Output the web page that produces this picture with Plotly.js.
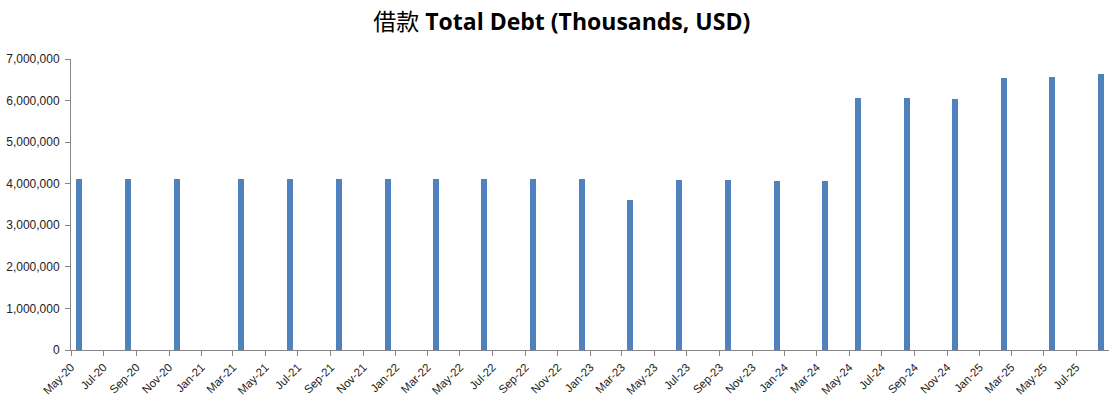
<!DOCTYPE html>
<html>
<head>
<meta charset="utf-8">
<script src="https://cdn.plot.ly/plotly-3.0.1.min.js"></script>
<style>
html,body{margin:0;padding:0;background:#fff;}
#chart{width:1119px;height:401px;}
</style>
</head>
<body>
<div id="chart"></div>
<script>
// Periods (month of each reported value)
const months = ['2020-05','2020-08','2020-11','2021-03','2021-06','2021-09','2021-12',
  '2022-03','2022-06','2022-09','2022-12','2023-03','2023-06','2023-09','2023-12',
  '2024-03','2024-05','2024-08','2024-11','2025-02','2025-05','2025-08'];
// Total debt, thousands USD
const totalDebt = [4115000,4115000,4115000,4115000,4115000,4115000,4115000,
  4115000,4115000,4115000,4115000,3610000,4090000,4090000,4065000,
  4065000,6060000,6060000,6040000,6540000,6570000,6640000];

const titleText = '借款 <b>Total Debt (Thousands, USD)</b>';

const trace = {
  type: 'bar',
  x: months,
  y: totalDebt,
  xperiod: 'M1',
  xperiodalignment: 'middle',
  width: 11.3*24*3600*1000,
  marker: {color: '#4F81BD', line: {width: 0}},
  hoverinfo: 'x+y'
};

const layout = {
  width: 1119, height: 401,
  margin: {l: 71, r: 10, t: 59, b: 51},
  paper_bgcolor: '#fff', plot_bgcolor: '#fff',
  showlegend: false,
  title: {
    text: titleText,
    x: 0.502, xref: 'container', xanchor: 'center',
    y: 0.945, yref: 'container', yanchor: 'middle',
    font: {family: '"Open Sans", "Noto Sans CJK SC", sans-serif', size: 23, color: '#000'}
  },
  xaxis: {
    type: 'date',
    range: ['2020-05-01', '2025-08-31 12:00'],
    tick0: '2020-05-01',
    dtick: 'M2',
    tickformat: '%b-%y',
    tickangle: -45,
    ticks: 'outside', ticklen: 5, tickcolor: '#868686', tickwidth: 1,
    showline: true, linecolor: '#868686', linewidth: 1,
    showgrid: false, zeroline: false,
    tickfont: {family: '"Liberation Sans", "DejaVu Sans", sans-serif', size: 11.5, color: '#222'},
    fixedrange: true
  },
  yaxis: {
    range: [0, 7000000],
    dtick: 1000000,
    tickformat: ',d',
    ticks: 'outside', ticklen: 5, tickcolor: '#868686', tickwidth: 1,
    showline: true, linecolor: '#868686', linewidth: 1,
    showgrid: false, zeroline: false,
    ticklabelstandoff: 3,
    tickfont: {family: '"Liberation Sans", "DejaVu Sans", sans-serif', size: 12, color: '#222'},
    fixedrange: true
  },
  bargap: 0
};

Plotly.newPlot('chart', [trace], layout, {displayModeBar: false, staticPlot: true});
</script>
</body>
</html>
